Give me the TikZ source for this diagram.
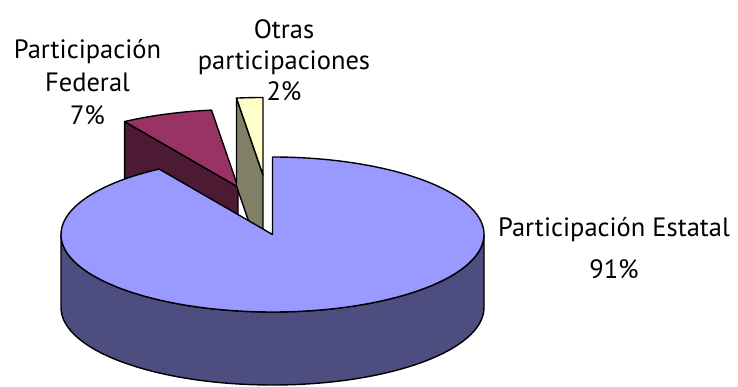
\documentclass[tikz,border=0pt]{standalone}
\usepackage{fontspec}
\setmainfont{PT Sans}
\usetikzlibrary{calc}

\definecolor{bigtop}{RGB}{153,153,255}
\definecolor{bigside}{RGB}{77,77,128}
\definecolor{fedtop}{RGB}{153,51,102}
\definecolor{fedside}{RGB}{77,26,51}
\definecolor{othtop}{RGB}{255,255,204}
\definecolor{othside}{RGB}{128,128,102}

\begin{document}
\begin{tikzpicture}[x=1pt, y=1pt,
  slice/.style = {
    draw = black,
    line width = 1.4pt,
    line join = round,
  },
  pielabel/.style = {
    align = center,
    inner sep = 0,
    font = \fontsize{26.5}{33}\selectfont,
  },
]
\useasboundingbox (0,0) rectangle (738,387);
\coordinate (C) at (272.5,152.5);
\coordinate (F) at (238,200);
\coordinate (O) at (263,212);
\filldraw[slice, fill=fedside] (F) -- ($(F)+(122.4:211.5pt and 77.5pt)$)
  -- ($(F)+(122.4:211.5pt and 77.5pt)+(0,-73)$) -- ($(F)+(0,-73)$) -- cycle;
\filldraw[slice, fill=fedtop] (F) -- ($(F)+(122.4:211.5pt and 77.5pt)$)
  arc[start angle=122.4, end angle=97.2, x radius=211.5pt, y radius=77.5pt] -- cycle;
\filldraw[slice, fill=othside] (O) -- ($(O)+(97.2:211.5pt and 77.5pt)$)
  -- ($(O)+(97.2:211.5pt and 77.5pt)+(0,-88)$) -- ($(O)+(0,-88)$) -- cycle;
\filldraw[slice, fill=othtop] (O) -- ($(O)+(97.2:211.5pt and 77.5pt)$)
  arc[start angle=97.2, end angle=90, x radius=211.5pt, y radius=77.5pt] -- cycle;
\filldraw[slice, fill=bigside] ($(C)+(-211.5,0)$) -- ++(0,-73)
  arc[start angle=180, end angle=360, x radius=211.5pt, y radius=77.5pt] -- ++(0,73)
  arc[start angle=360, end angle=180, x radius=211.5pt, y radius=77.5pt] -- cycle;
\filldraw[slice, fill=bigtop] (C) -- ($(C)+(122.4:211.5pt and 77.5pt)$)
  arc[start angle=122.4, end angle=450, x radius=211.5pt, y radius=77.5pt] -- cycle;
\node[pielabel] (fedlabel) at (87.5,305) {Participación\\Federal\\7\%};
\node[pielabel, font=\fontsize{26.5}{31}\selectfont] (othlabel) at (284,327)
  {Otras\\participaciones\\2\%};
\node[pielabel, font=\fontsize{26.5}{42}\selectfont] (estlabel) at (614,139)
  {Participación Estatal\\91\%};
\end{tikzpicture}
\end{document}
